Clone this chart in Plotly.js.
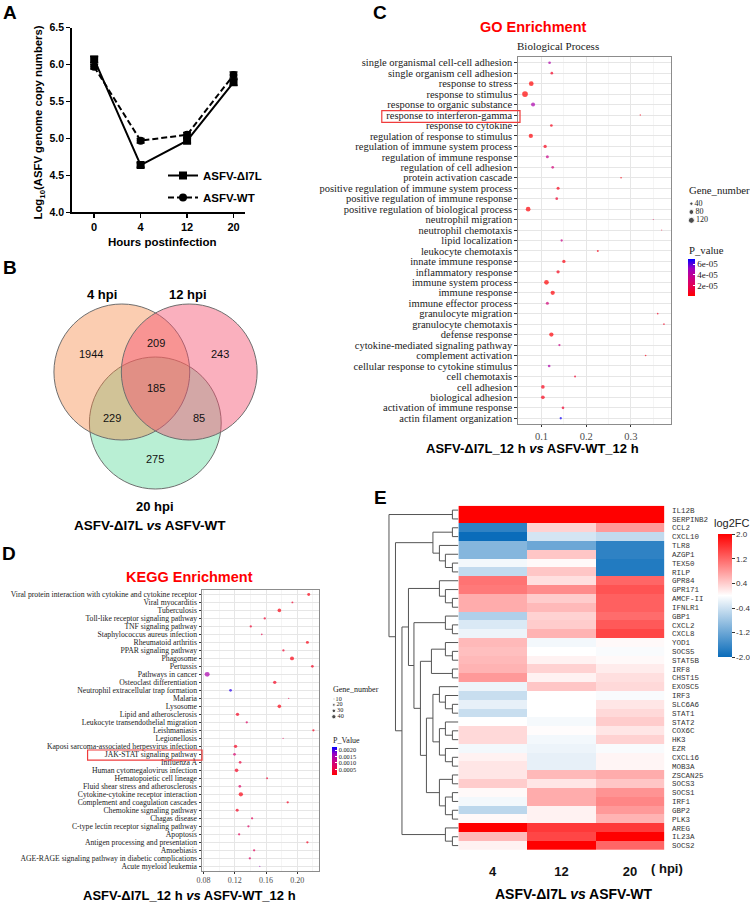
<!DOCTYPE html>
<html><head><meta charset="utf-8">
<script src="https://cdn.plot.ly/plotly-3.0.1.min.js"></script>
<style>html,body{margin:0;padding:0;background:#fff;} #chart{width:750px;height:903px;}</style>
</head><body><div id="chart"></div>
<script>
// ================= DATA =================
// Panel A
const hoursPI = ['0', '4', '12', '20'];
const copiesDelta = [6.07, 4.64, 4.97, 5.76];
const copiesDeltaErr = [0.04, 0.03, 0.03, 0.04];
const copiesWT = [5.97, 4.97, 5.05, 5.86];
const copiesWTErr = [0.03, 0.03, 0.03, 0.04];

// Panel B (Venn)
const vennSets = ['4 hpi', '12 hpi', '20 hpi'];
const vennRegions = ['4 only', '4&12', '12 only', '4&12&20', '4&20', '12&20', '20 only'];
const vennCounts = [1944, 209, 243, 185, 229, 85, 275];

// Panel C (GO)
const goTerms = ['single organismal cell-cell adhesion', 'single organism cell adhesion', 'response to stress',
  'response to stimulus', 'response to organic substance', 'response to interferon-gamma', 'response to cytokine',
  'regulation of response to stimulus', 'regulation of immune system process', 'regulation of immune response',
  'regulation of cell adhesion', 'protein activation cascade', 'positive regulation of immune system process',
  'positive regulation of immune response', 'positive regulation of biological process', 'neutrophil migration',
  'neutrophil chemotaxis', 'lipid localization', 'leukocyte chemotaxis', 'innate immune response',
  'inflammatory response', 'immune system process', 'immune response', 'immune effector process',
  'granulocyte migration', 'granulocyte chemotaxis', 'defense response', 'cytokine-mediated signaling pathway',
  'complement activation', 'cellular response to cytokine stimulus', 'cell chemotaxis', 'cell adhesion',
  'biological adhesion', 'activation of immune response', 'actin filament organization'];
const goRichFactor = [0.118, 0.123, 0.077, 0.063, 0.081, 0.321, 0.122, 0.076, 0.108, 0.113, 0.125, 0.278, 0.137,
  0.134, 0.070, 0.350, 0.369, 0.145, 0.226, 0.150, 0.137, 0.111, 0.125, 0.113, 0.360, 0.374, 0.122, 0.140, 0.333,
  0.117, 0.175, 0.103, 0.103, 0.148, 0.143];
const goGeneNumber = [28, 28, 75, 109, 56, 11, 28, 64, 40, 34, 28, 14, 34, 28, 75, 8, 8, 22, 18, 40, 40, 75, 64, 34,
  14, 14, 64, 22, 14, 28, 18, 48, 48, 28, 22];
const goPValue = [4.5e-5, 0.8e-5, 1e-7, 1e-7, 4.6e-5, 0.5e-5, 0.5e-5, 1e-6, 0.5e-5, 3.5e-5, 3e-5, 0.3e-5, 0.5e-5,
  1e-5, 1e-6, 2e-5, 1e-5, 3.5e-5, 0.5e-5, 0.3e-5, 0.5e-5, 1e-7, 1e-6, 3e-5, 0.8e-5, 0.8e-5, 1e-6, 3.5e-5, 0.5e-5,
  4.5e-5, 1e-5, 0.5e-5, 0.5e-5, 1e-5, 6.8e-5];
const goSizeLegend = [40, 80, 120];
const goPTicks = [2e-5, 4e-5, 6e-5];
const goPTickText = ['2e-05', '4e-05', '6e-05'];

// Panel D (KEGG)
const keggTerms = ['Viral protein interaction with cytokine and cytokine receptor', 'Viral myocarditis', 'Tuberculosis',
  'Toll-like receptor signaling pathway', 'TNF signaling pathway', 'Staphylococcus aureus infection',
  'Rheumatoid arthritis', 'PPAR signaling pathway', 'Phagosome', 'Pertussis', 'Pathways in cancer',
  'Osteoclast differentiation', 'Neutrophil extracellular trap formation', 'Malaria', 'Lysosome',
  'Lipid and atherosclerosis', 'Leukocyte transendothelial migration', 'Leishmaniasis', 'Legionellosis',
  'Kaposi sarcoma-associated herpesvirus infection', 'JAK-STAT signaling pathway', 'Influenza A',
  'Human cytomegalovirus infection', 'Hematopoietic cell lineage', 'Fluid shear stress and atherosclerosis',
  'Cytokine-cytokine receptor interaction', 'Complement and coagulation cascades', 'Chemokine signaling pathway',
  'Chagas disease', 'C-type lectin receptor signaling pathway', 'Apoptosis', 'Antigen processing and presentation',
  'Amoebiasis', 'AGE-RAGE signaling pathway in diabetic complications', 'Acute myeloid leukemia'];
const keggRichFactor = [0.2146, 0.1937, 0.1770, 0.1583, 0.1404, 0.1545, 0.2129, 0.1822, 0.1932, 0.2193, 0.0846,
  0.1711, 0.1145, 0.1890, 0.1770, 0.1234, 0.1353, 0.2206, 0.1818, 0.1209, 0.1196, 0.1268, 0.1222, 0.1613, 0.1264,
  0.1277, 0.1877, 0.1230, 0.1421, 0.1374, 0.1255, 0.2129, 0.1447, 0.1392, 0.1520];
const keggGeneNumber = [23, 14, 31, 17, 17, 12, 23, 17, 35, 20, 51, 27, 20, 10, 31, 27, 17, 17, 10, 27, 20, 20, 31,
  14, 20, 40, 17, 23, 17, 17, 17, 17, 17, 17, 10];
const keggPValue = [0.0002, 0.0004, 0.0002, 0.0004, 0.0004, 0.0006, 0.0002, 0.0004, 0.0002, 0.0003, 0.0015, 0.0003,
  0.0021, 0.0006, 0.0002, 0.0003, 0.0008, 0.0003, 0.0007, 0.0003, 0.0009, 0.0005, 0.0003, 0.0004, 0.0008, 0.0002,
  0.0003, 0.0003, 0.0007, 0.0008, 0.0007, 0.0003, 0.0007, 0.0008, 0.0017];
const keggSizeLegend = [10, 20, 30, 40];
const keggPTicks = [0.0005, 0.0010, 0.0015, 0.0020];

// Panel E (heatmap)
const heatGenes = ['IL12B', 'SERPINB2', 'CCL2', 'CXCL10', 'TLR8', 'AZGP1', 'TEX50', 'RILP', 'GPR84', 'GPR171',
  'AMCF-II', 'IFNLR1', 'GBP1', 'CXCL2', 'CXCL8', 'YOD1', 'SOCS5', 'STAT5B', 'IRF8', 'CHST15', 'EXOSC5', 'IRF3',
  'SLC6A6', 'STAT1', 'STAT2', 'COX6C', 'HK3', 'EZR', 'CXCL16', 'MOB3A', 'ZSCAN25', 'SOCS3', 'SOCS1', 'IRF1', 'GBP2',
  'PLK3', 'AREG', 'IL23A', 'SOCS2'];
const heatHpi = ['4', '12', '20'];
const fc4h = [2.0, 2.0, -1.7, -2.0, -1.0, -1.0, -0.1, -0.5, 1.1, 1.05, 0.65, 0.65, -0.65, -0.3, -0.15, 0.55, 0.5,
  0.55, 0.6, 0.8, -0.15, -0.45, -0.2, -0.45, 0.0, 0.3, 0.3, -0.1, 0.1, 0.2, 0.2, 0.4, 0.05, -0.1, -0.55, 0.05, 2.0,
  0.55, 0.1];
const fc12h = [2.0, 2.0, 0.35, -0.35, -1.2, 0.45, 0.05, 0.45, 0.25, 0.9, 0.4, 0.55, 0.35, 0.4, 0.6, -0.1, 0.0, 0.1,
  0.35, 0.1, 0.45, 0.0, 0.0, 0.0, -0.08, 0.02, -0.1, -0.15, -0.2, -0.2, 0.55, 0.2, 0.65, 0.65, 0.1, 0.1, 1.55, 1.45,
  2.0];
const fc20h = [2.0, 2.0, 0.8, -0.5, -1.7, -1.7, -1.8, -1.8, 1.2, 1.35, 1.25, 1.25, 1.15, 1.3, 1.45, 0.05, -0.05,
  0.05, 0.15, 0.25, 0.3, -0.05, 0.2, 0.3, 0.4, 0.2, 0.35, -0.05, 0.08, 0.08, 0.65, 0.45, 0.85, 0.95, 0.8, 0.6, 1.55,
  2.0, 1.2];
const fcTicks = [-2.0, -1.2, -0.4, 0.4, 1.2, 2.0];
// hierarchical clustering of genes: [height, left, right]
const geneTree = [69.5,
  [6, 'IL12B', 'SERPINB2'],
  [63,
    [25.5, [6, 'CCL2', 'CXCL10'], [19, 'TLR8', [13, 'AZGP1', [6, 'TEX50', 'RILP']]]],
    [56.5,
      [50,
        [19, 'GPR84', [13, 'GPR171', [6, 'AMCF-II', 'IFNLR1']]],
        [44.5,
          [13, 'GBP1', [6, 'CXCL2', 'CXCL8']],
          [38,
            [27, [13, 'YOD1', [6, 'SOCS5', 'STAT5B']], [6, 'IRF8', 'CHST15']],
            [32,
              [25.5,
                [19, 'EXOSC5', [13, 'IRF3', [6, 'SLC6A6', 'STAT1']]],
                [19, [13, 'STAT2', [6, 'COX6C', 'HK3']], [13, 'EZR', [6, 'CXCL16', 'MOB3A']]]],
              [19, [6, 'ZSCAN25', 'SOCS3'], [13, [6, 'SOCS1', 'IRF1'], [6, 'GBP2', 'PLK3']]]]]]],
      [13, 'AREG', [6, 'IL23A', 'SOCS2']]]]];

// ================= LAYOUT HELPERS =================
const W = 750, H = 903;
const px = v => v / W;
const py = v => 1 - v / H;
const SANS = 'Liberation Sans, Arial, sans-serif';
const SERIF = 'Liberation Serif, Times New Roman, serif';
const MONO = 'Liberation Mono, Courier New, monospace';
const pScale = [[0, '#ff0000'], [0.25, '#e7004f'], [0.5, '#c90088'], [0.75, '#9900c2'], [1, '#0000ff']];
const goDot = n => Math.sqrt(Math.max(0.314 * n - 1.65, 1));
const keggDot = n => Math.sqrt(Math.max(0.569 * n - 4.25, 1));

// dendrogram geometry from tree
const dendX = [], dendY = [];
function walk(node) {
  if (typeof node === 'string') return { h: 0, y: heatGenes.indexOf(node) };
  const a = walk(node[1]), b = walk(node[2]);
  const h = node[0];
  dendX.push(a.h, h, h, b.h, null);
  dendY.push(a.y, a.y, b.y, b.y, null);
  return { h: h, y: (a.y + b.y) / 2 };
}
walk(geneTree);

const traces = [];
// ---- Panel A ----
traces.push({
  type: 'scatter', mode: 'lines+markers', x: hoursPI, y: copiesDelta, name: 'ASFV-ΔI7L',
  xaxis: 'x', yaxis: 'y', legendgroup: 'a1',
  line: { color: '#000', width: 2 }, marker: { symbol: 'square', size: 8, color: '#000' },
  error_y: { type: 'data', array: copiesDeltaErr, color: '#000', thickness: 1.5, width: 4 }
});
traces.push({
  type: 'scatter', mode: 'lines+markers', x: hoursPI, y: copiesWT, name: 'ASFV-WT',
  xaxis: 'x', yaxis: 'y', legendgroup: 'a2',
  line: { color: '#000', width: 2, dash: '6px,3px' }, marker: { symbol: 'circle', size: 8, color: '#000' },
  error_y: { type: 'data', array: copiesWTErr, color: '#000', thickness: 1.5, width: 4 }
});
// ---- Panel C ----
traces.push({
  type: 'scatter', mode: 'markers', x: goRichFactor, y: goTerms, xaxis: 'x3', yaxis: 'y3', showlegend: false,
  marker: {
    size: goGeneNumber.map(goDot), color: goPValue, colorscale: pScale, cmin: 0, cmax: 7e-5, line: { width: 0 },
    showscale: true,
    colorbar: {
      x: px(688.3), xanchor: 'left', xpad: 0, ypad: 0, y: py(277.5), yanchor: 'middle',
      len: 37, lenmode: 'pixels', thickness: 7, thicknessmode: 'pixels', outlinewidth: 0,
      tickvals: goPTicks, ticktext: goPTickText, ticks: 'inside', ticklen: 2, tickcolor: '#fff',
      tickfont: { family: SERIF, size: 9, color: '#1a1a1a' }
    }
  }
});
traces.push({
  type: 'scatter', mode: 'markers+text', x: goSizeLegend.map(() => 0), y: goSizeLegend.map(String),
  text: goSizeLegend.map(String), textposition: 'middle right',
  textfont: { family: SERIF, size: 8, color: '#1a1a1a' },
  marker: { size: goSizeLegend.map(goDot), color: '#000' }, xaxis: 'x7', yaxis: 'y7',
  showlegend: false, cliponaxis: false, hoverinfo: 'skip'
});
// ---- Panel D ----
traces.push({
  type: 'scatter', mode: 'markers', x: keggRichFactor, y: keggTerms, xaxis: 'x4', yaxis: 'y4', showlegend: false,
  marker: {
    size: keggGeneNumber.map(keggDot), color: keggPValue, colorscale: pScale, cmin: 0.00008, cmax: 0.00225,
    line: { width: 0 }, showscale: true,
    colorbar: {
      x: px(331.7), xanchor: 'left', xpad: 0, ypad: 0, y: py(760.8), yanchor: 'middle',
      len: 28, lenmode: 'pixels', thickness: 5, thicknessmode: 'pixels', outlinewidth: 0,
      tickvals: keggPTicks, ticktext: keggPTicks.map(v => v.toFixed(4)), ticks: 'inside', ticklen: 1.5,
      tickcolor: '#fff', tickfont: { family: SERIF, size: 6.3, color: '#1a1a1a' }
    }
  }
});
traces.push({
  type: 'scatter', mode: 'markers+text', x: keggSizeLegend.map(() => 0), y: keggSizeLegend.map(String),
  text: keggSizeLegend.map(String), textposition: 'middle right',
  textfont: { family: SERIF, size: 6.2, color: '#1a1a1a' },
  marker: { size: keggSizeLegend.map(keggDot), color: '#000' }, xaxis: 'x8', yaxis: 'y8',
  showlegend: false, cliponaxis: false, hoverinfo: 'skip'
});
// ---- Panel E ----
traces.push({
  type: 'heatmap', x: heatHpi, y: heatGenes,
  z: heatGenes.map((g, i) => [fc4h[i], fc12h[i], fc20h[i]]),
  xaxis: 'x5', yaxis: 'y5', zmin: -2, zmax: 2,
  colorscale: [[0, '#0a6cba'], [0.5, '#ffffff'], [1, '#ff0000']],
  showscale: true,
  colorbar: {
    x: px(717.7), xanchor: 'left', xpad: 0, ypad: 0, y: py(595.7), yanchor: 'middle',
    len: 123, lenmode: 'pixels', thickness: 14, thicknessmode: 'pixels', outlinewidth: 0,
    tickvals: fcTicks, ticktext: fcTicks.map(v => v.toFixed(1)), ticks: 'outside', ticklen: 3,
    tickcolor: '#333', tickfont: { family: SANS, size: 8, color: '#333' }
  }
});
traces.push({
  type: 'scatter', mode: 'lines', x: dendX, y: dendY, xaxis: 'x6', yaxis: 'y6', showlegend: false,
  line: { color: '#555', width: 1 }, hoverinfo: 'skip'
});

// ================= AXES =================
const hidden = { visible: false, showgrid: false, zeroline: false, fixedrange: true };
const ggX = (dom, range, dtick, fmt, minorDt, fs) => ({
  domain: dom, range: range, tick0: 0, dtick: dtick, tickformat: fmt,
  showgrid: true, gridcolor: '#e6e6e6', gridwidth: 1,
  minor: { dtick: minorDt, tick0: 0, showgrid: true, gridcolor: '#f2f2f2', gridwidth: 0.8 },
  showline: true, mirror: true, linecolor: '#8c8c8c', linewidth: 1,
  ticks: 'outside', ticklen: 2, tickcolor: '#333', zeroline: false,
  tickfont: { family: SERIF, size: fs, color: '#4d4d4d' }
});
const ggY = (dom, cats, fs, tl) => ({
  domain: dom, type: 'category', range: [cats.length - 1 + 0.55, -0.55],
  tickmode: 'array', tickvals: cats, ticktext: cats,
  showgrid: true, gridcolor: '#e6e6e6', gridwidth: 1,
  showline: true, mirror: true, linecolor: '#8c8c8c', linewidth: 1,
  ticks: 'outside', ticklen: tl, tickcolor: '#333', zeroline: false,
  tickfont: { family: SERIF, size: fs, color: '#1a1a1a' }
});

const layout = {
  width: W, height: H, margin: { l: 0, r: 0, t: 0, b: 0 },
  paper_bgcolor: '#fff', plot_bgcolor: '#fff', showlegend: true,
  legend: {
    x: px(163), y: py(161), xanchor: 'left', yanchor: 'top', bgcolor: 'rgba(0,0,0,0)',
    font: { family: SANS, size: 11.5, color: '#000', weight: 'bold' }, tracegroupgap: 3, itemwidth: 30
  },
  // Panel A
  xaxis: {
    domain: [px(71.7), px(245)], type: 'category', range: [-0.486, 3.24], anchor: 'y',
    showline: true, linecolor: '#000', linewidth: 1.5, ticks: 'outside', ticklen: 4, tickwidth: 1.5,
    tickcolor: '#000', showgrid: false, zeroline: false,
    tickfont: { family: SANS, size: 11, color: '#000', weight: 'bold' }
  },
  yaxis: {
    domain: [py(212.3), py(27.7)], range: [4, 6.5], dtick: 0.5, tick0: 4, tickformat: '.1f', anchor: 'x',
    showline: true, linecolor: '#000', linewidth: 1.5, ticks: 'outside', ticklen: 4, tickwidth: 1.5,
    tickcolor: '#000', showgrid: false, zeroline: false,
    tickfont: { family: SANS, size: 10.5, color: '#000', weight: 'bold' }
  },
  // Panel C
  xaxis3: Object.assign(ggX([px(519), px(672)], [0.048, 0.39], 0.1, '.1f', 0.05, 10.5), { anchor: 'y3' }),
  yaxis3: Object.assign(ggY([py(424), py(57)], goTerms, 10.5, 3), { anchor: 'x3' }),
  // Panel D
  xaxis4: Object.assign(ggX([px(202.3), px(319.3)], [0.078, 0.2276], 0.04, '.2f', 0.02, 8), { anchor: 'y4' }),
  yaxis4: Object.assign(ggY([py(870.7), py(590)], keggTerms, 7.7, 2.5), { anchor: 'x4' }),
  // Panel E heatmap
  xaxis5: {
    domain: [px(459), px(665.3)], type: 'category', anchor: 'y5', showgrid: false, zeroline: false,
    tickmode: 'array', tickvals: heatHpi, ticktext: heatHpi,
    ticks: 'outside', ticklen: 9, tickcolor: 'rgba(0,0,0,0)', showline: false,
    tickfont: { family: SANS, size: 13, color: '#111', weight: 'bold' }
  },
  yaxis5: {
    domain: [py(850), py(505.7)], type: 'category', autorange: 'reversed', anchor: 'x5', side: 'right',
    tickmode: 'array', tickvals: heatGenes, ticktext: heatGenes,
    showgrid: false, zeroline: false, showline: false, ticks: 'outside', ticklen: 5,
    tickcolor: 'rgba(0,0,0,0)', tickfont: { family: MONO, size: 7.5, color: '#333' }
  },
  // dendrogram
  xaxis6: Object.assign({ domain: [px(387), px(459)], range: [72, 0], anchor: 'y6' }, hidden),
  yaxis6: Object.assign({ domain: [py(850), py(505.7)], range: [heatGenes.length - 0.5, -0.5], anchor: 'x6' }, hidden),
  // size legends
  xaxis7: Object.assign({ domain: [px(688), px(745)], range: [-4.3, 52.7], anchor: 'y7' }, hidden),
  yaxis7: Object.assign({ domain: [py(224.5), py(199.5)], type: 'category', range: [2.5, -0.5], anchor: 'x7' }, hidden),
  xaxis8: Object.assign({ domain: [px(331), px(360)], range: [-3.3, 25.7], anchor: 'y8' }, hidden),
  yaxis8: Object.assign({ domain: [py(719.7), py(696)], type: 'category', range: [3.5, -0.5], anchor: 'x8' }, hidden),
  annotations: [], shapes: []
};

// ================= ANNOTATIONS =================
function addText(text, x, y, font, opts) {
  layout.annotations.push(Object.assign({
    text: text, x: px(x), y: py(y), xref: 'paper', yref: 'paper', showarrow: false,
    xanchor: 'center', yanchor: 'middle', font: font
  }, opts || {}));
}
const bold = (s, c) => ({ family: SANS, size: s, color: c || '#000', weight: 'bold' });
// panel letters
[['A', 9.7, 12.5], ['B', 9.7, 267], ['C', 381, 12.5], ['D', 9.3, 553.3], ['E', 380.7, 497.5]]
  .forEach(l => addText(l[0], l[1], l[2], bold(19)));
// Panel A titles
addText('Log<sub>10</sub>(ASFV genome copy numbers)', 39.5, 122, bold(11.3), { textangle: -90 });
addText('Hours postinfection', 163, 241.7, bold(11.5));
// Panel B Venn
const vennCircles = [
  { cx: 155.5, cy: 423, r: 66, fill: 'rgba(100,220,160,0.45)' },
  { cx: 122, cy: 372, r: 68, fill: 'rgba(245,130,60,0.40)' },
  { cx: 189.5, cy: 372, r: 68, fill: 'rgba(245,80,110,0.45)' }
];
vennCircles.forEach(c => layout.shapes.push({
  type: 'circle', xref: 'paper', yref: 'paper', x0: px(c.cx - c.r), x1: px(c.cx + c.r),
  y0: py(c.cy + c.r), y1: py(c.cy - c.r), fillcolor: c.fill, line: { color: '#6e6e6e', width: 1 }
}));
const vennSetPos = [[101.7, 294.3], [188.3, 294.3], [155.7, 506.7]];
vennSets.forEach((s, i) => addText(s, vennSetPos[i][0], vennSetPos[i][1], bold(13)));
const vennCountPos = [[90.7, 354.3], [156, 343.3], [220, 354.3], [156, 387.7], [112, 417.7], [199, 417.7], [155, 459.3]];
vennCounts.forEach((v, i) => addText(String(v), vennCountPos[i][0], vennCountPos[i][1],
  { family: SANS, size: 11, color: '#111' }));
addText('ASFV-ΔI7L <i>vs</i> ASFV-WT', 150.5, 525, bold(13.5));
// Panel C
addText('GO Enrichment', 533.8, 27.3, bold(14.5, '#ff0000'));
addText('Biological Process', 559, 45.7, { family: SERIF, size: 11, color: '#1a1a1a' });
addText('ASFV-ΔI7L_12 h <i>vs</i> ASFV-WT_12 h', 533.5, 448.5, bold(13));
addText('Gene_number', 688.3, 190.2, { family: SERIF, size: 10.7, color: '#1a1a1a' }, { xanchor: 'left' });
addText('P_value', 688.3, 249.5, { family: SERIF, size: 10.7, color: '#1a1a1a' }, { xanchor: 'left' });
// Panel D
addText('KEGG Enrichment', 189.7, 576.7, bold(14.5, '#ff0000'));
addText('ASFV-ΔI7L_12 h <i>vs</i> ASFV-WT_12 h', 189.3, 895, bold(13));
addText('Gene_number', 331.2, 689.3, { family: SERIF, size: 8, color: '#1a1a1a' }, { xanchor: 'left' });
addText('P_Value', 331.2, 740, { family: SERIF, size: 8, color: '#1a1a1a' }, { xanchor: 'left' });
// Panel E
addText('log2FC', 732.7, 523.3, { family: SANS, size: 11, color: '#222' });
addText('( hpi)', 668.3, 868.3, bold(13, '#111'));
addText('ASFV-ΔI7L <i>vs</i> ASFV-WT', 575, 894, bold(14));

// highlight boxes
[[382.3, 520.7, 110.7, 122.3], [87.7, 202.3, 750, 760.2]].forEach(b => layout.shapes.push({
  type: 'rect', xref: 'paper', yref: 'paper', x0: px(b[0]), x1: px(b[1]), y0: py(b[3]), y1: py(b[2]),
  line: { color: '#f03c3c', width: 1.2 }, fillcolor: 'rgba(0,0,0,0)'
}));

Plotly.newPlot('chart', traces, layout, { displayModeBar: false, staticPlot: true });
</script>
</body></html>
